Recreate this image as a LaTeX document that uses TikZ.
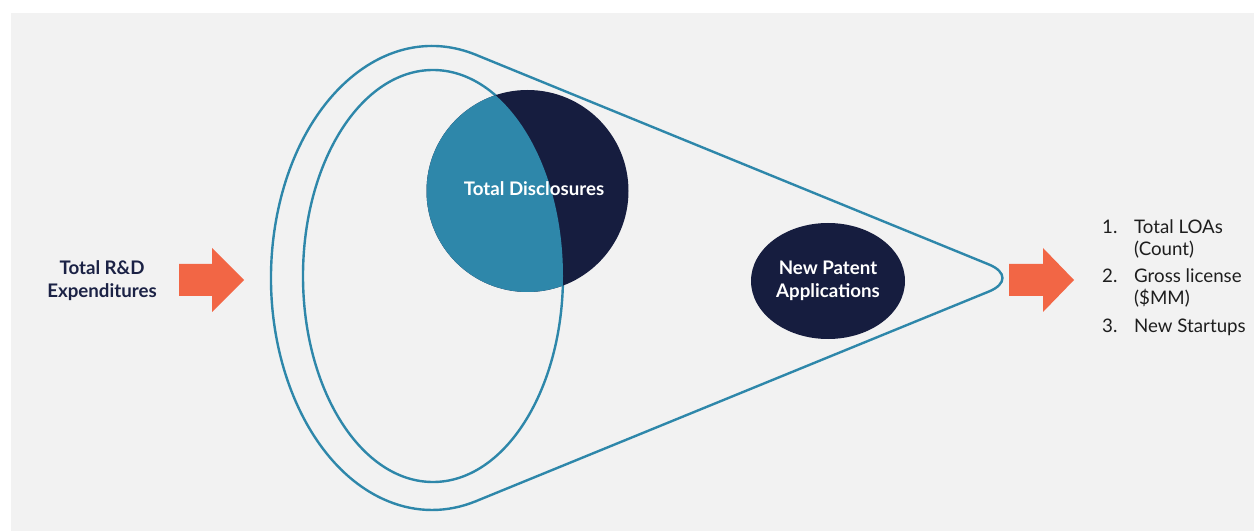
\documentclass[tikz,border=0pt]{standalone}
\usepackage{fontspec}
\setmainfont{Lato}
\usetikzlibrary{shapes.geometric}
\definecolor{bgGray}{HTML}{F2F2F2}
\definecolor{tealBlue}{HTML}{2E87AA}
\definecolor{navyDark}{HTML}{161D3F}
\definecolor{navyText}{HTML}{1B2245}
\definecolor{arrowOrange}{HTML}{F26645}
\definecolor{listText}{HTML}{1E1E1E}
\begin{document}
\begin{tikzpicture}[x=1pt, y=1pt,
	outline/.style={draw=tealBlue, line width=2.4pt, line join=round, line cap=round},
	boldtext/.style={font=\bfseries\fontsize{18.7}{23}\selectfont, align=center},
	listtext/.style={font=\fontsize{18.7}{21.5}\selectfont, text=listText, align=left, inner sep=0pt},
	blockarrow/.style={fill=arrowOrange}]
	\useasboundingbox (0,0) rectangle (1254,531);
	\fill[bgGray] (11,0) rectangle (1254,518);

	% funnel
	\coordinate (oc)   at (432,253);
	\coordinate (apex) at (1022,253);
	\coordinate (tt)   at ([shift={(74.2:161 and 232)}]oc);
	\coordinate (tb)   at ([shift={(-74.2:161 and 232)}]oc);
	\coordinate (ic)   at (433,255);
	\coordinate (dc)   at (527.5,340);
	\draw[outline, rounded corners=36pt] (tb) -- (apex) -- (tt);
	\draw[outline] (tt) arc[start angle=74.2, end angle=285.8, x radius=161, y radius=232];
	\draw[outline] (ic) ellipse[x radius=130, y radius=206];

	% disclosures
	\fill[navyDark] (dc) circle[radius=101];
	\begin{scope}
		\clip (ic) ellipse[x radius=130, y radius=206];
		\fill[tealBlue] (dc) circle[radius=101];
	\end{scope}
	\node[boldtext, text=white] (disc) at (534,342) {Total Disclosures};

	\node[ellipse, fill=navyDark, minimum width=154pt, minimum height=116pt, inner sep=0pt,
		boldtext, text=white] (patent) at (828,250) {New Patent\\Applications};

	% arrows
	\fill[blockarrow] (179,235) -- (212,235) -- (212,219) -- (244,251) -- (212,283) -- (212,267) -- (179,267) -- cycle;
	\fill[blockarrow] (1009,235) -- (1043,235) -- (1043,219) -- (1074,251) -- (1043,283) -- (1043,267) -- (1009,267) -- cycle;

	\node[boldtext, text=navyText] (rnd) at (102,250) {Total R\&D\\Expenditures};

	% outputs
	\node[listtext, anchor=base west] (n1) at (1102,297) {1.};
	\node[listtext, anchor=base west] (n2) at (1102,248) {2.};
	\node[listtext, anchor=base west] (n3) at (1102,198) {3.};
	\node[listtext, anchor=north west] (item1) at (1134,311) {Total LOAs\\(Count)};
	\node[listtext, anchor=north west] (item2) at (1134,262) {Gross license\\(\$MM)};
	\node[listtext, anchor=base west] (item3) at (1134,198) {New Startups};
\end{tikzpicture}
\end{document}
